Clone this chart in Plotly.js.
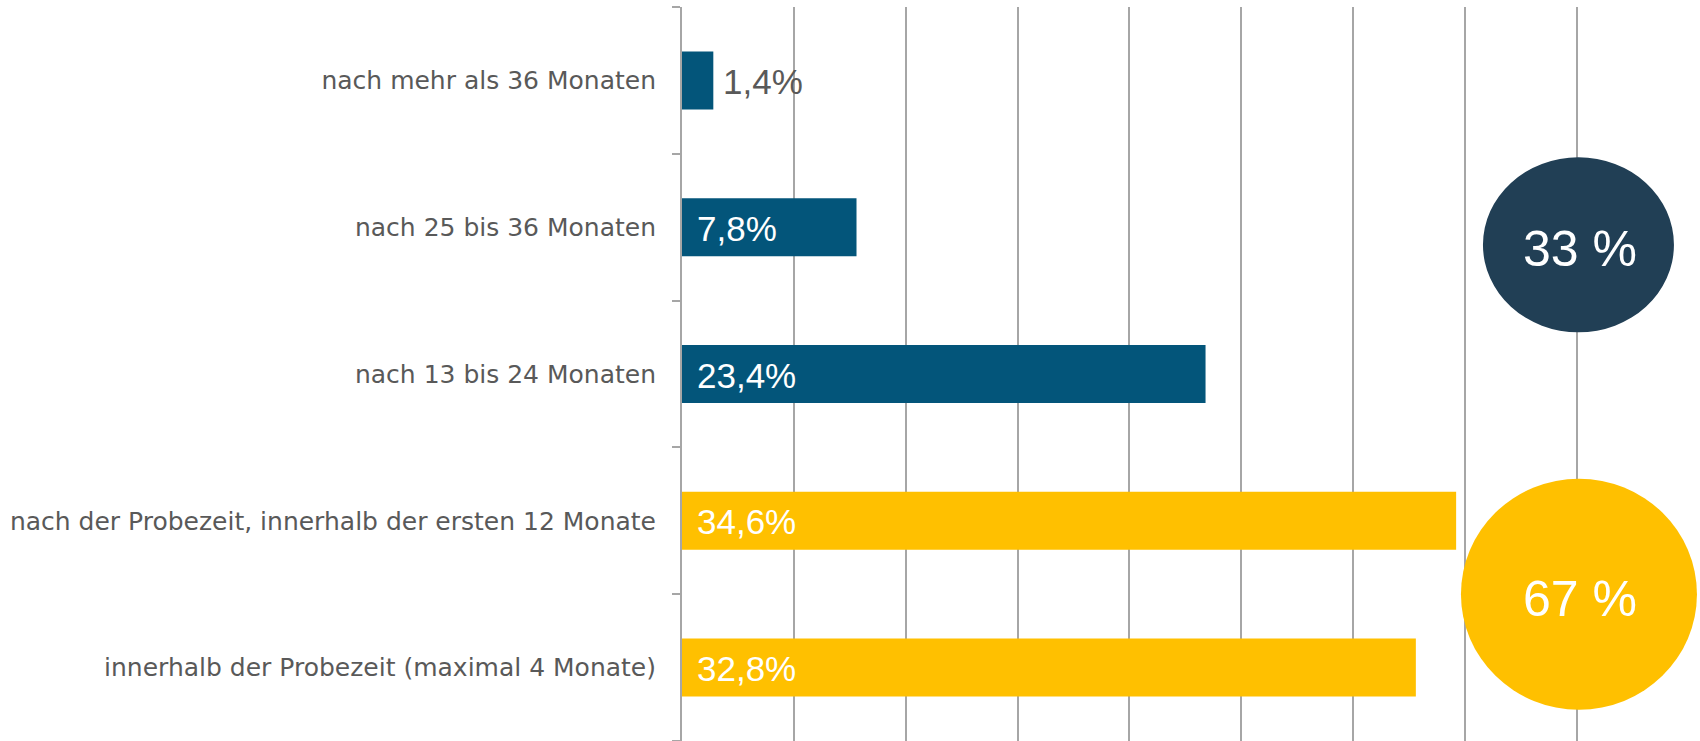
<!DOCTYPE html>
<html>
<head>
<meta charset="utf-8">
<script src="https://cdn.plot.ly/plotly-3.0.1.min.js"></script>
<style>
    html, body { margin: 0; padding: 0; background: #ffffff; }
    #graphDiv { width: 1700px; height: 741px; }
</style>
</head>
<body>
<div id="graphDiv"></div>
<script>
// categories from bottom to top (plotly draws the first one at the bottom)
const categories = [
    "innerhalb der Probezeit (maximal 4 Monate)",
    "nach der Probezeit, innerhalb der ersten 12 Monate",
    "nach 13 bis 24 Monaten",
    "nach 25 bis 36 Monaten",
    "nach mehr als 36 Monaten"
];
const shares = [32.8, 34.6, 23.4, 7.8, 1.4];
const withinFirstYear = [true, true, false, false, false];
const gridValues = [0, 5, 10, 15, 20, 25, 30, 35, 40];

const YELLOW = "#ffc000";
const BLUE = "#03557a";
const NAVY = "#213f55";
const GREY_TEXT = "#595959";
const GRID = "#a6a6a6";

const fmt = (v) => v.toFixed(1).replace(".", ",") + "%";

const sumFirstYear = shares.filter((v, i) => withinFirstYear[i]).reduce((a, b) => a + b, 0);
const sumLater = shares.filter((v, i) => !withinFirstYear[i]).reduce((a, b) => a + b, 0);

const trace = {
    type: "bar",
    orientation: "h",
    x: shares,
    y: categories,
    marker: { color: withinFirstYear.map((f) => (f ? YELLOW : BLUE)) },
    hoverinfo: "none"
};

// value labels: small bars get the label outside in grey, the rest inside in white
const valueLabels = shares.map((v, i) => {
    const outside = v < 3;
    return {
        x: outside ? v : 0,
        y: categories[i],
        xref: "x", yref: "y",
        text: fmt(v),
        showarrow: false,
        xanchor: "left",
        yanchor: "middle",
        xshift: outside ? 8 : 13,
        yshift: -1,
        font: { family: "Liberation Sans, Arial, sans-serif", size: 35, color: outside ? GREY_TEXT : "#ffffff" }
    };
});

const circleLabels = [
    { value: sumLater, yPos: 2.88, shift: -4 },
    { value: sumFirstYear, yPos: 0.5, shift: -5 }
].map((c) => ({
    x: 40, y: c.yPos,
    xref: "x", yref: "y",
    text: Math.round(c.value) + " %",
    showarrow: false,
    xanchor: "center", yanchor: "middle",
    xshift: 3,
    yshift: c.shift,
    font: { family: "Liberation Sans, Arial, sans-serif", size: 50, color: "#ffffff" }
}));

const shapes = [
    {
        type: "circle", xref: "x", yref: "y",
        xsizemode: "pixel", ysizemode: "pixel",
        xanchor: 40, yanchor: 2.88,
        x0: -94, x1: 97, y0: -87.5, y1: 87.5,
        fillcolor: NAVY, line: { width: 0 }, layer: "above"
    },
    {
        type: "circle", xref: "x", yref: "y",
        xsizemode: "pixel", ysizemode: "pixel",
        xanchor: 40, yanchor: 0.5,
        x0: -116, x1: 120, y0: -115.5, y1: 115.5,
        fillcolor: YELLOW, line: { width: 0 }, layer: "above"
    }
];

const layout = {
    width: 1700,
    height: 741,
    margin: { l: 682, r: 0, t: 7, b: 0 },
    paper_bgcolor: "#ffffff",
    plot_bgcolor: "#ffffff",
    showlegend: false,
    bargap: 0.605,
    xaxis: {
        range: [0, 45.5],
        tickvals: gridValues,
        showticklabels: false,
        ticks: "",
        showgrid: true,
        gridcolor: GRID,
        gridwidth: 2,
        zeroline: false,
        fixedrange: true
    },
    yaxis: {
        type: "category",
        showline: true,
        linecolor: GRID,
        linewidth: 2,
        ticks: "outside",
        tickson: "boundaries",
        ticklen: 8,
        tickwidth: 2,
        tickcolor: GRID,
        ticklabelstandoff: 19,
        tickfont: { family: "DejaVu Sans, sans-serif", size: 25, color: GREY_TEXT },
        showgrid: false,
        automargin: false,
        fixedrange: true
    },
    shapes: shapes,
    annotations: valueLabels.concat(circleLabels)
};

Plotly.newPlot("graphDiv", [trace], layout, { displayModeBar: false, staticPlot: true });
</script>
</body>
</html>
